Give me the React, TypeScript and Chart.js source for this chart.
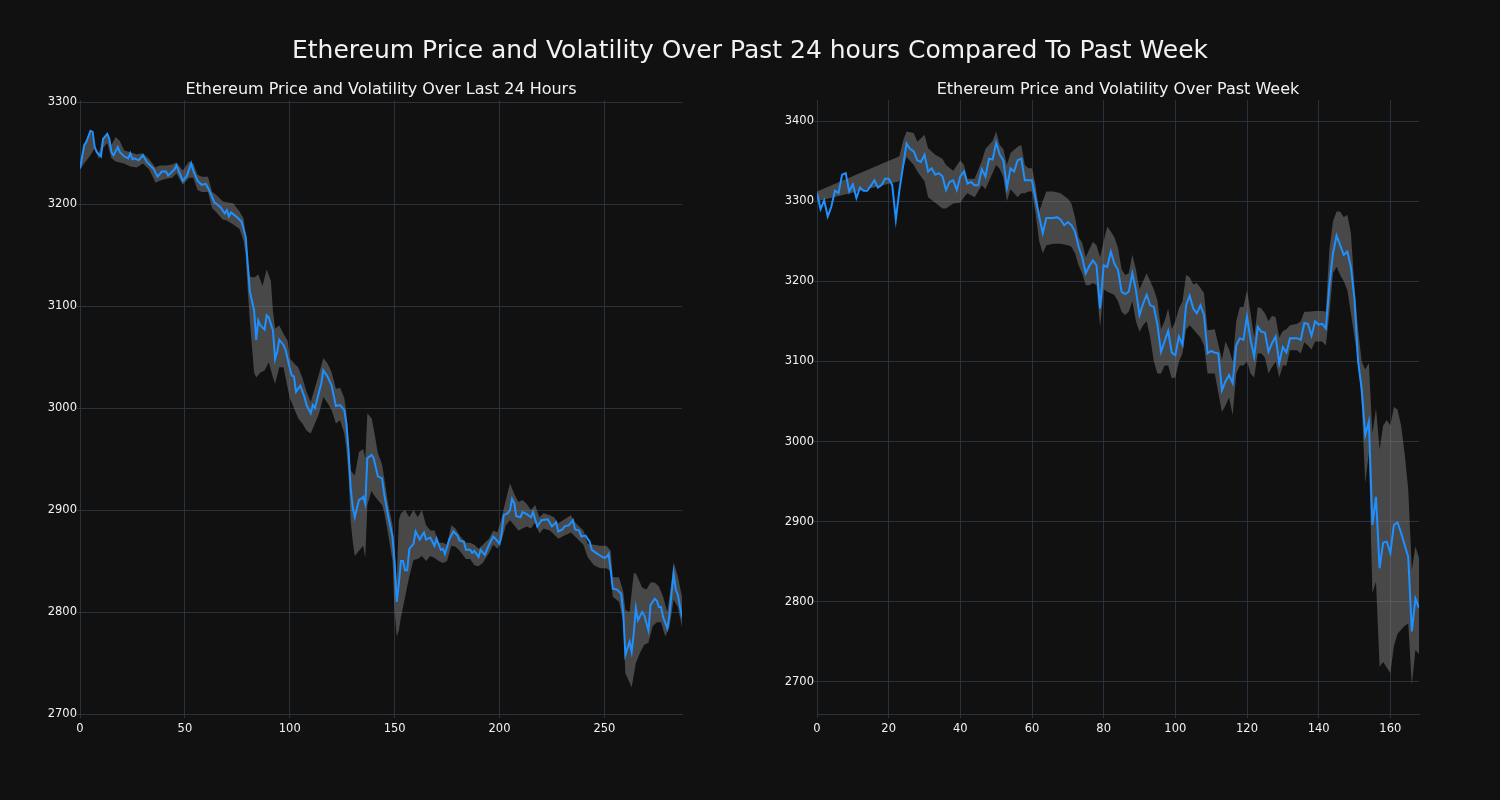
import React, { useEffect, useRef } from 'react';
import { Chart, registerables } from 'chart.js';

Chart.register(...registerables);

const MAIN_TITLE = 'Ethereum Price and Volatility Over Past 24 hours Compared To Past Week';
const LEFT_TITLE = 'Ethereum Price and Volatility Over Last 24 Hours';
const RIGHT_TITLE = 'Ethereum Price and Volatility Over Past Week';

const LEFT_X_TICKS = [0, 50, 100, 150, 200, 250];
const LEFT_Y_TICKS = [2700, 2800, 2900, 3000, 3100, 3200, 3300];
const RIGHT_X_TICKS = [0, 20, 40, 60, 80, 100, 120, 140, 160];
const RIGHT_Y_TICKS = [2700, 2800, 2900, 3000, 3100, 3200, 3300, 3400];

// [index (5-minute step), price]
const LEFT_PRICE: [number, number][] = [
  [0, 3235], [2, 3258], [3, 3261], [5, 3272], [6, 3271], [7, 3256], [8, 3251], [10, 3247], [11, 3264], [13, 3269],
  [14, 3264], [15, 3251], [16, 3248], [18, 3256], [19, 3251], [21, 3247], [23, 3245], [24, 3250], [25, 3244], [26, 3245],
  [28, 3243], [30, 3248], [32, 3241], [35, 3235], [37, 3227], [39, 3232], [41, 3232], [42, 3228], [44, 3232], [45, 3234],
  [46, 3238], [47, 3233], [49, 3223], [51, 3228], [53, 3240], [54, 3233], [56, 3223], [58, 3219], [60, 3220], [62, 3212],
  [64, 3202], [67, 3197], [69, 3191], [70, 3194], [71, 3188], [72, 3192], [75, 3187], [77, 3183], [79, 3168], [80, 3140],
  [81, 3114], [83, 3096], [84, 3067], [85, 3086], [86, 3081], [88, 3077], [89, 3091], [90, 3089], [92, 3076], [93, 3048],
  [94, 3055], [95, 3067], [97, 3062], [98, 3057], [100, 3039], [101, 3032], [102, 3031], [103, 3016], [105, 3022], [107, 3011],
  [108, 3003], [110, 2995], [111, 3003], [112, 3000], [114, 3016], [115, 3024], [116, 3037], [118, 3031], [120, 3022], [122, 3002],
  [124, 3003], [126, 2998], [127, 2985], [128, 2959], [129, 2923], [130, 2903], [131, 2893], [133, 2910], [134, 2911], [135, 2913],
  [136, 2906], [137, 2951], [139, 2954], [140, 2951], [142, 2933], [144, 2931], [145, 2916], [147, 2893], [149, 2874], [150, 2848],
  [151, 2810], [152, 2828], [153, 2850], [154, 2850], [155, 2841], [156, 2841], [157, 2862], [159, 2867], [160, 2879], [162, 2871],
  [163, 2875], [164, 2878], [165, 2871], [167, 2873], [169, 2865], [170, 2872], [172, 2861], [173, 2862], [174, 2857], [176, 2871],
  [178, 2879], [180, 2875], [181, 2870], [183, 2869], [184, 2861], [186, 2861], [187, 2858], [188, 2860], [190, 2854], [191, 2861],
  [193, 2856], [195, 2866], [197, 2874], [198, 2872], [200, 2867], [201, 2877], [202, 2895], [204, 2897], [205, 2900], [206, 2911],
  [207, 2907], [208, 2894], [210, 2893], [211, 2898], [213, 2896], [215, 2893], [216, 2898], [218, 2884], [220, 2890], [223, 2891],
  [225, 2884], [227, 2888], [228, 2879], [230, 2881], [231, 2884], [233, 2885], [235, 2890], [236, 2881], [238, 2880], [239, 2874],
  [241, 2875], [243, 2869], [244, 2861], [246, 2858], [249, 2854], [250, 2853], [251, 2854], [252, 2857], [253, 2841], [254, 2823],
  [256, 2822], [258, 2818], [259, 2799], [260, 2758], [262, 2771], [263, 2761], [264, 2779], [265, 2804], [266, 2792], [268, 2800],
  [269, 2797], [271, 2782], [272, 2807], [274, 2813], [275, 2811], [276, 2805], [277, 2805], [278, 2795], [280, 2784], [281, 2797],
  [282, 2818], [283, 2838], [284, 2822], [285, 2817], [287, 2795],
];

const LEFT_UPPER: [number, number][] = [
  [0, 3236], [2, 3259], [5, 3273], [7, 3257], [9, 3250], [11, 3265], [13, 3270], [15, 3258], [17, 3266], [19, 3262],
  [21, 3253], [24, 3251], [27, 3249], [30, 3250], [33, 3244], [36, 3236], [38, 3238], [41, 3238], [44, 3239], [46, 3241],
  [49, 3233], [52, 3242], [54, 3240], [56, 3229], [58, 3227], [61, 3227], [63, 3212], [65, 3209], [68, 3203], [70, 3202],
  [73, 3201], [76, 3193], [78, 3186], [79, 3170], [80, 3145], [81, 3129], [83, 3128], [85, 3131], [87, 3120], [89, 3136],
  [91, 3125], [92, 3095], [93, 3078], [95, 3081], [97, 3073], [99, 3066], [100, 3049], [102, 3044], [104, 3040], [106, 3030],
  [108, 3016], [110, 3006], [112, 3020], [114, 3034], [116, 3049], [118, 3044], [120, 3035], [122, 3019], [124, 3020], [126, 3010],
  [127, 2995], [128, 2970], [129, 2939], [131, 2934], [133, 2957], [135, 2960], [136, 2950], [137, 2995], [139, 2990], [140, 2980],
  [142, 2956], [144, 2945], [145, 2932], [147, 2905], [149, 2885], [150, 2860], [151, 2830], [152, 2890], [153, 2897], [155, 2900],
  [157, 2893], [159, 2900], [161, 2893], [163, 2900], [165, 2885], [167, 2880], [169, 2880], [171, 2868], [173, 2868], [175, 2866],
  [177, 2885], [179, 2882], [181, 2875], [184, 2868], [186, 2868], [188, 2866], [190, 2862], [192, 2866], [195, 2872], [197, 2880],
  [199, 2878], [201, 2892], [203, 2910], [205, 2926], [207, 2916], [209, 2908], [211, 2910], [213, 2906], [215, 2900], [217, 2905],
  [219, 2893], [221, 2897], [224, 2895], [226, 2893], [228, 2887], [231, 2891], [234, 2895], [236, 2888], [238, 2884], [240, 2880],
  [242, 2867], [245, 2866], [248, 2865], [251, 2865], [253, 2860], [254, 2834], [257, 2834], [259, 2820], [260, 2802], [262, 2800],
  [264, 2838], [265, 2838], [268, 2824], [270, 2822], [272, 2829], [274, 2829], [276, 2825], [278, 2815], [280, 2800], [282, 2830],
  [283, 2849], [285, 2835], [287, 2815],
];

const LEFT_LOWER: [number, number][] = [
  [0, 3234], [2, 3240], [5, 3248], [7, 3255], [9, 3244], [11, 3255], [13, 3260], [15, 3245], [17, 3242], [19, 3241],
  [21, 3240], [24, 3237], [27, 3236], [30, 3240], [33, 3234], [36, 3221], [38, 3223], [41, 3225], [44, 3226], [46, 3230],
  [49, 3219], [52, 3226], [54, 3226], [56, 3214], [58, 3212], [61, 3212], [63, 3196], [65, 3192], [68, 3185], [70, 3184],
  [73, 3180], [76, 3176], [78, 3164], [79, 3150], [80, 3115], [81, 3085], [82, 3060], [83, 3035], [84, 3030], [86, 3035],
  [88, 3037], [90, 3045], [92, 3030], [93, 3024], [95, 3040], [97, 3040], [99, 3020], [100, 3010], [102, 3000], [104, 2990],
  [106, 2985], [108, 2978], [110, 2975], [112, 2985], [114, 2995], [116, 3011], [118, 3005], [120, 2998], [122, 2985], [124, 2988],
  [126, 2975], [127, 2960], [128, 2935], [129, 2890], [130, 2870], [131, 2855], [133, 2860], [135, 2865], [136, 2853], [137, 2905],
  [139, 2919], [140, 2915], [142, 2910], [144, 2905], [145, 2898], [147, 2875], [149, 2850], [150, 2800], [151, 2776], [152, 2782],
  [153, 2795], [155, 2815], [157, 2835], [159, 2851], [161, 2852], [163, 2855], [165, 2850], [167, 2855], [169, 2853], [171, 2850],
  [173, 2848], [175, 2850], [177, 2865], [179, 2864], [181, 2860], [184, 2852], [186, 2852], [188, 2846], [190, 2845], [192, 2848],
  [195, 2858], [197, 2866], [199, 2862], [201, 2870], [203, 2885], [205, 2890], [207, 2885], [209, 2880], [211, 2882], [213, 2884],
  [215, 2882], [217, 2888], [219, 2877], [221, 2882], [224, 2880], [226, 2876], [228, 2872], [231, 2875], [234, 2878], [236, 2874],
  [238, 2870], [240, 2866], [242, 2854], [245, 2846], [248, 2843], [251, 2843], [253, 2840], [254, 2815], [257, 2810], [259, 2790],
  [260, 2740], [262, 2731], [263, 2726], [265, 2750], [267, 2760], [269, 2768], [271, 2770], [273, 2786], [275, 2790], [277, 2790],
  [279, 2776], [281, 2785], [283, 2812], [285, 2805], [287, 2785],
];

// [index (hourly step), price]
const RIGHT_PRICE: [number, number][] = [
  [0, 3310], [1, 3290], [2, 3301], [3, 3281], [4, 3293], [5, 3313], [6, 3310], [7, 3333], [8, 3335], [9, 3312],
  [10, 3321], [11, 3304], [12, 3317], [13, 3313], [14, 3313], [15, 3319], [16, 3326], [17, 3317], [18, 3320], [19, 3328],
  [20, 3328], [21, 3320], [22, 3277], [23, 3314], [24, 3343], [25, 3372], [26, 3365], [27, 3362], [28, 3351], [29, 3349],
  [30, 3358], [31, 3337], [32, 3341], [33, 3333], [34, 3335], [35, 3331], [36, 3314], [37, 3324], [38, 3326], [39, 3314],
  [40, 3331], [41, 3337], [42, 3322], [43, 3324], [44, 3320], [45, 3320], [46, 3340], [47, 3331], [48, 3353], [49, 3352],
  [50, 3373], [51, 3358], [52, 3351], [53, 3317], [54, 3341], [55, 3337], [56, 3351], [57, 3353], [58, 3326], [59, 3326],
  [60, 3326], [61, 3303], [62, 3281], [63, 3260], [64, 3279], [65, 3279], [66, 3279], [67, 3280], [68, 3277], [69, 3270],
  [70, 3274], [71, 3270], [72, 3262], [73, 3243], [74, 3230], [75, 3210], [76, 3219], [77, 3226], [78, 3220], [79, 3166],
  [80, 3220], [81, 3218], [82, 3237], [83, 3222], [84, 3214], [85, 3187], [86, 3184], [87, 3187], [88, 3210], [89, 3189],
  [90, 3158], [91, 3172], [92, 3183], [93, 3170], [94, 3168], [95, 3146], [96, 3112], [97, 3125], [98, 3138], [99, 3111],
  [100, 3108], [101, 3131], [102, 3121], [103, 3170], [104, 3182], [105, 3166], [106, 3160], [107, 3170], [108, 3158], [109, 3110],
  [110, 3113], [111, 3111], [112, 3110], [113, 3064], [114, 3075], [115, 3083], [116, 3073], [117, 3120], [118, 3129], [119, 3127],
  [120, 3156], [121, 3127], [122, 3106], [123, 3143], [124, 3137], [125, 3136], [126, 3112], [127, 3123], [128, 3131], [129, 3098],
  [130, 3118], [131, 3111], [132, 3129], [133, 3129], [134, 3129], [135, 3127], [136, 3148], [137, 3147], [138, 3132], [139, 3150],
  [140, 3146], [141, 3147], [142, 3141], [143, 3195], [144, 3235], [145, 3257], [146, 3245], [147, 3233], [148, 3237], [149, 3218],
  [150, 3177], [151, 3100], [152, 3066], [153, 3008], [154, 3025], [155, 2896], [156, 2931], [157, 2842], [158, 2874], [159, 2875],
  [160, 2861], [161, 2896], [162, 2899], [163, 2886], [164, 2871], [165, 2856], [166, 2763], [167, 2804], [168, 2792],
];

const RIGHT_UPPER: [number, number][] = [
  [0, 3312], [23, 3356], [24, 3375], [25, 3387], [27, 3385], [28, 3374], [30, 3383], [31, 3366], [33, 3358], [35, 3353],
  [36, 3345], [38, 3338], [40, 3351], [41, 3345], [42, 3328], [44, 3328], [46, 3350], [47, 3365], [49, 3375], [50, 3387],
  [51, 3370], [52, 3365], [53, 3345], [54, 3360], [56, 3368], [57, 3370], [58, 3345], [59, 3341], [60, 3341], [61, 3320],
  [62, 3287], [63, 3300], [64, 3312], [66, 3312], [68, 3310], [70, 3303], [71, 3297], [72, 3280], [73, 3255], [74, 3248],
  [75, 3230], [76, 3240], [77, 3249], [78, 3245], [79, 3230], [80, 3250], [81, 3268], [82, 3262], [83, 3255], [84, 3242],
  [85, 3215], [86, 3208], [87, 3210], [88, 3233], [89, 3215], [90, 3190], [91, 3200], [92, 3210], [93, 3200], [94, 3190],
  [95, 3176], [96, 3140], [97, 3150], [98, 3166], [99, 3140], [100, 3150], [101, 3166], [102, 3175], [103, 3208], [104, 3205],
  [105, 3196], [106, 3198], [107, 3192], [108, 3185], [109, 3139], [111, 3140], [113, 3102], [114, 3125], [115, 3115], [116, 3100],
  [117, 3150], [118, 3168], [119, 3168], [120, 3189], [121, 3160], [122, 3130], [123, 3168], [124, 3166], [125, 3160], [126, 3150],
  [127, 3157], [128, 3155], [129, 3130], [130, 3138], [131, 3140], [132, 3145], [134, 3147], [135, 3150], [136, 3162], [137, 3162],
  [139, 3163], [141, 3163], [142, 3162], [143, 3240], [144, 3275], [145, 3287], [146, 3287], [147, 3280], [148, 3283], [149, 3260],
  [150, 3193], [151, 3140], [152, 3100], [153, 3090], [154, 3098], [155, 3010], [156, 3042], [157, 2990], [158, 3020], [159, 3027],
  [160, 3020], [161, 3043], [162, 3040], [163, 3020], [164, 2985], [165, 2940], [166, 2840], [167, 2869], [168, 2855],
];

const RIGHT_LOWER: [number, number][] = [
  [0, 3300], [23, 3325], [24, 3340], [25, 3355], [27, 3345], [28, 3337], [30, 3325], [31, 3305], [33, 3298], [35, 3291],
  [36, 3291], [38, 3297], [40, 3298], [41, 3305], [42, 3310], [44, 3305], [46, 3320], [47, 3315], [49, 3335], [50, 3345],
  [51, 3340], [52, 3330], [53, 3300], [54, 3315], [56, 3305], [57, 3310], [58, 3310], [59, 3312], [60, 3312], [61, 3285],
  [62, 3250], [63, 3235], [64, 3245], [66, 3247], [68, 3247], [70, 3245], [71, 3243], [72, 3235], [73, 3220], [74, 3210],
  [75, 3195], [76, 3195], [77, 3198], [78, 3195], [79, 3143], [80, 3190], [81, 3187], [82, 3185], [83, 3183], [84, 3175],
  [85, 3162], [86, 3158], [87, 3162], [88, 3175], [89, 3150], [90, 3137], [91, 3145], [92, 3150], [93, 3130], [94, 3100],
  [95, 3085], [96, 3085], [97, 3095], [98, 3095], [99, 3079], [100, 3080], [101, 3100], [102, 3110], [103, 3140], [104, 3145],
  [105, 3140], [106, 3135], [107, 3130], [108, 3120], [109, 3085], [111, 3085], [113, 3037], [114, 3045], [115, 3055], [116, 3033],
  [117, 3085], [118, 3095], [119, 3095], [120, 3100], [121, 3085], [122, 3080], [123, 3110], [124, 3110], [125, 3105], [126, 3085],
  [127, 3093], [128, 3100], [129, 3080], [130, 3095], [131, 3095], [132, 3114], [134, 3114], [135, 3110], [136, 3124], [137, 3120],
  [138, 3115], [139, 3125], [141, 3125], [142, 3120], [143, 3160], [144, 3210], [145, 3218], [146, 3208], [147, 3200], [148, 3189],
  [149, 3160], [150, 3130], [151, 3100], [152, 3048], [153, 2948], [154, 2985], [155, 2811], [156, 2825], [157, 2719], [158, 2725],
  [159, 2718], [160, 2711], [161, 2745], [162, 2760], [163, 2765], [164, 2770], [165, 2773], [166, 2696], [167, 2740], [168, 2735],
];

const BG = '#111111';
const GRID = '#2a323e';
const TEXT = '#f2f2f2';
const LINE = '#1e90ff';
const BAND = 'rgba(128,128,128,0.5)';
const FONT = "'DejaVu Sans', sans-serif";

type PanelProps = {
  title: string;
  price: [number, number][];
  upper: [number, number][];
  lower: [number, number][];
  xMax: number;
  yMin: number;
  yMax: number;
  xTicks: number[];
  yTicks: number[];
  left: number;
  yAxisWidth: number;
  padRight: number;
};

function Panel(p: PanelProps) {
  const ref = useRef<HTMLCanvasElement>(null);
  useEffect(() => {
    const toPts = (arr: [number, number][]) => arr.map(([x, y]) => ({ x, y }));
    const chart = new Chart(ref.current as HTMLCanvasElement, {
      type: 'line',
      data: {
        datasets: [
          {
            data: toPts(p.price),
            borderColor: LINE,
            borderWidth: 2,
            pointRadius: 0,
            fill: false,
            tension: 0,
            order: 0,
          },
          {
            data: toPts(p.lower),
            borderColor: 'rgba(0,0,0,0)',
            borderWidth: 0,
            pointRadius: 0,
            fill: false,
            tension: 0,
            order: 1,
          },
          {
            data: toPts(p.upper),
            borderColor: 'rgba(0,0,0,0)',
            borderWidth: 0,
            pointRadius: 0,
            backgroundColor: BAND,
            fill: '-1',
            tension: 0,
            order: 2,
          },
        ],
      },
      options: {
        animation: false,
        responsive: false,
        maintainAspectRatio: false,
        devicePixelRatio: 1,
        events: [],
        layout: { padding: { top: 80, left: 0, right: p.padRight, bottom: 46 } },
        plugins: {
          legend: { display: false },
          tooltip: { enabled: false },
          title: {
            display: true,
            text: p.title,
            color: TEXT,
            fullSize: false,
            font: { family: FONT, size: 16, weight: 'normal', lineHeight: 1.2 },
            padding: { top: 0, bottom: 1 },
          },
        },
        scales: {
          x: {
            type: 'linear',
            min: 0,
            max: p.xMax,
            afterBuildTicks: (axis: any) => {
              axis.ticks = p.xTicks.map((v) => ({ value: v }));
            },
            afterFit: (s: any) => {
              s.height = 40;
            },
            grid: { color: GRID, lineWidth: 1, tickLength: 4, tickColor: GRID },
            border: { color: GRID, width: 1 },
            ticks: {
              color: TEXT,
              font: { family: FONT, size: 11.5 },
              padding: 4,
              maxRotation: 0,
              autoSkip: false,
              callback: (v: any) => String(v),
            },
          },
          y: {
            type: 'linear',
            min: p.yMin,
            max: p.yMax,
            afterBuildTicks: (axis: any) => {
              axis.ticks = p.yTicks.map((v) => ({ value: v }));
            },
            afterFit: (s: any) => {
              s.width = p.yAxisWidth;
            },
            grid: { color: GRID, lineWidth: 1, tickLength: 3, tickColor: GRID },
            border: { color: GRID, width: 1 },
            ticks: {
              color: TEXT,
              font: { family: FONT, size: 11.5 },
              padding: 0,
              autoSkip: false,
              callback: (v: any) => String(v),
            },
          },
        },
      },
    } as any);
    return () => chart.destroy();
  }, []);
  return (
    <canvas
      ref={ref}
      width={750}
      height={800}
      style={{ position: 'absolute', left: p.left, top: 0, width: 750, height: 800, display: 'block' }}
    />
  );
}

export default function App() {
  return (
    <div
      style={{
        position: 'fixed',
        left: 0,
        top: 0,
        width: 1500,
        height: 800,
        background: BG,
        overflow: 'hidden',
      }}
    >
      <Panel
        title={LEFT_TITLE}
        price={LEFT_PRICE}
        upper={LEFT_UPPER}
        lower={LEFT_LOWER}
        xMax={287}
        yMin={2700}
        yMax={3302}
        xTicks={LEFT_X_TICKS}
        yTicks={LEFT_Y_TICKS}
        left={0}
        yAxisWidth={80}
        padRight={68}
      />
      <Panel
        title={RIGHT_TITLE}
        price={RIGHT_PRICE}
        upper={RIGHT_UPPER}
        lower={RIGHT_LOWER}
        xMax={168}
        yMin={2660}
        yMax={3426}
        xTicks={RIGHT_X_TICKS}
        yTicks={RIGHT_Y_TICKS}
        left={750}
        yAxisWidth={67}
        padRight={81}
      />
      <div
        style={{
          position: 'absolute',
          left: 0,
          top: 35,
          width: 1500,
          textAlign: 'center',
          color: TEXT,
          fontFamily: FONT,
          fontSize: 25,
          lineHeight: '30px',
          whiteSpace: 'nowrap',
        }}
      >
        {MAIN_TITLE}
      </div>
    </div>
  );
}
